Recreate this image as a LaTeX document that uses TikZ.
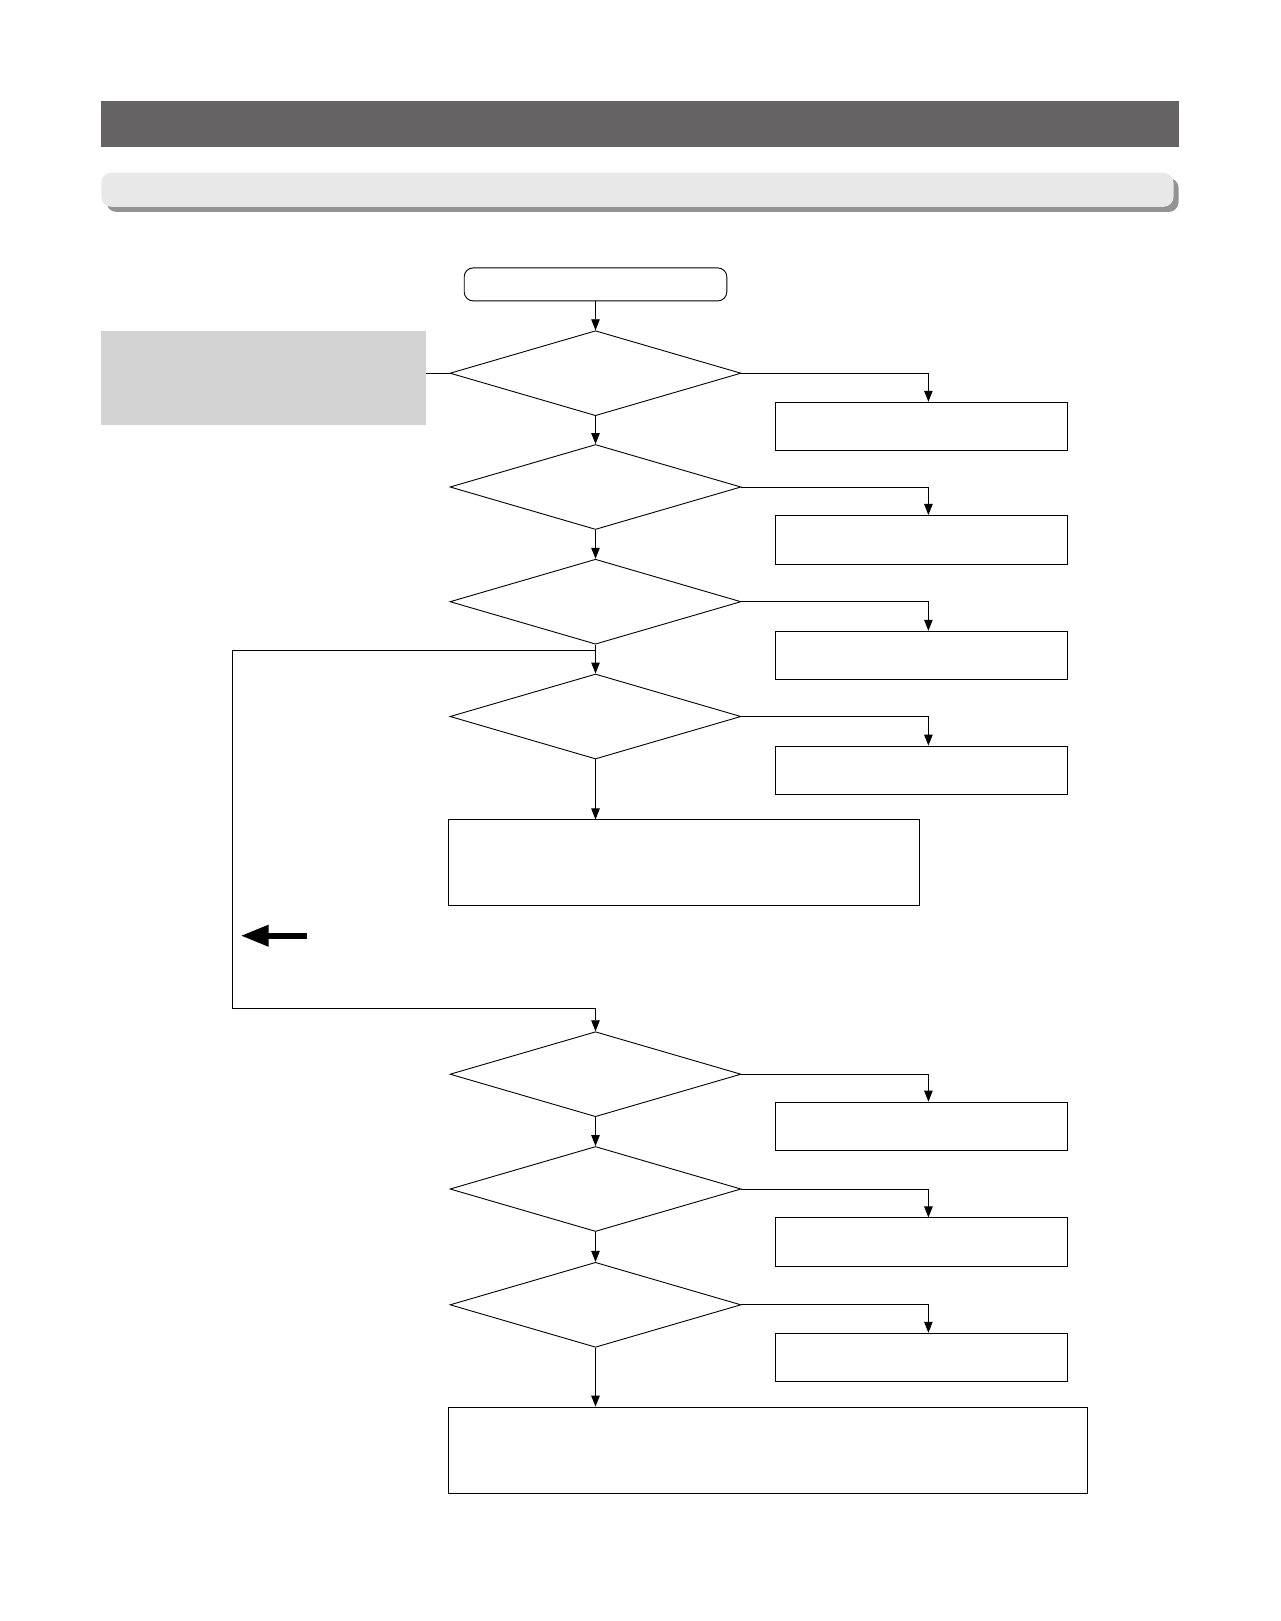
\documentclass[tikz,border=0pt]{standalone}
\usetikzlibrary{shapes.geometric,arrows.meta}
\definecolor{barDark}{HTML}{656364}
\definecolor{barLight}{HTML}{E8E8E8}
\definecolor{barShadow}{HTML}{939393}
\definecolor{noteGray}{HTML}{D3D3D3}
\begin{document}
\begin{tikzpicture}[x=1pt,y=-1pt,line width=0.9pt,
  decision/.style={draw,diamond,minimum width=291pt,minimum height=85pt,inner sep=0pt},
  result/.style={draw,rectangle,minimum width=292pt,minimum height=48.6pt,inner sep=0pt},
  flow/.style={-{Triangle[length=11pt,width=8.5pt]}}]
\useasboundingbox (0,0) rectangle (1281,1621);
% header bars
\fill[barDark] (101.3,101.3) rectangle (1178.6,146.8);
\fill[barShadow,rounded corners=10pt] (106.5,178) rectangle (1178.6,212);
\fill[barLight,rounded corners=10pt] (101.3,172.7) rectangle (1173.5,206.8);
% start and note
\node[draw,rounded corners=9pt,minimum width=262.6pt,minimum height=33pt,inner sep=0pt] (start) at (595.5,284.4) {};
\node[fill=noteGray,minimum width=324.7pt,minimum height=94.2pt,inner sep=0pt] (note) at (263.6,377.9) {};
% decisions and results
\foreach \n/\y in {1/373.2,2/487,3/601.7,4/716.5,5/1074.2,6/1189,7/1304.8}{\node[decision] (d\n) at (595.5,\y) {};}
\foreach \n/\y in {1/426.5,2/539.7,3/655.5,4/770.3,5/1126.4,6/1242.2,7/1357.5}{\node[result] (r\n) at (921.2,\y) {};}
\node[draw,minimum width=470.4pt,minimum height=85.8pt,inner sep=0pt] (mid) at (683.9,862.8) {};
\node[draw,minimum width=639pt,minimum height=85.9pt,inner sep=0pt] (final) at (768.2,1450) {};
% connectors
\draw[flow] (start) -- (d1.north);
\draw (note.east |- d1.west) -- (d1.west);
\draw[flow] (d1.south) -- (d2.north);
\draw[flow] (d2.south) -- (d3.north);
\draw[flow] (d3.south) -- (d4.north);
\draw[flow] (d4.south) -- (d4.south |- mid.north);
\draw[flow] (d5.south) -- (d6.north);
\draw[flow] (d6.south) -- (d7.north);
\draw[flow] (d7.south) -- (d7.south |- final.north);
\foreach \n in {1,...,7}{\draw[flow] (d\n.east) -| ([xshift=7.2pt]r\n.north);}
% loop back
\coordinate (split) at (595.5,650.3);
\coordinate (loopbase) at (232.6,1008);
\draw[flow] (split) -| (loopbase) -| (d5.north);
\draw[line width=6.3pt,-{Triangle[length=28pt,width=20pt]}] (307,935.7) -- (240.5,935.7);
\end{tikzpicture}
\end{document}
